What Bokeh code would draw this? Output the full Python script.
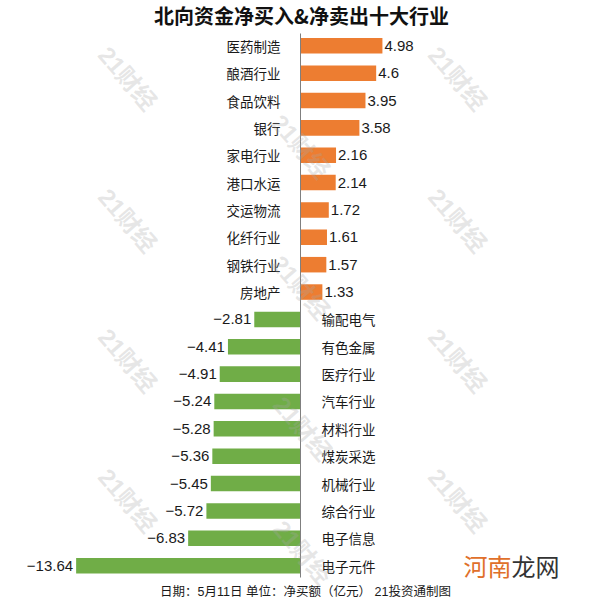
from bokeh.plotting import figure
from bokeh.models import ColumnDataSource, Range1d
from bokeh.core.properties import value
from bokeh.embed import file_html
from bokeh.resources import INLINE

# ---------------- data ----------------
title = "北向资金净买入&净卖出十大行业"
footer = "日期：5月11日 单位：净买额（亿元） 21投资通制图"
buy_industries = ["医药制造", "酿酒行业", "食品饮料", "银行", "家电行业",
                  "港口水运", "交运物流", "化纤行业", "钢铁行业", "房地产"]
buy_values = [4.98, 4.6, 3.95, 3.58, 2.16, 2.14, 1.72, 1.61, 1.57, 1.33]
sell_industries = ["输配电气", "有色金属", "医疗行业", "汽车行业", "材料行业",
                   "煤炭采选", "机械行业", "综合行业", "电子信息", "电子元件"]
sell_values = [-2.81, -4.41, -4.91, -5.24, -5.28, -5.36, -5.45, -5.72, -6.83, -13.64]
watermark_text = "21财经"
site_mark = ["河南", "龙网"]

# ---------------- layout helpers (pixel -> data) ----------------
X0, XS = 300.0, 16.45      # zero position and px per unit
Y0, YS = 45.3, 27.36       # first row centre and row pitch


def dx(px):
    return (px - X0) / XS


def dy(py):
    return (py - Y0) / YS


CJK = "Noto Sans CJK SC"
LAT = "Liberation Sans"
ORANGE = "#ED7D31"
GREEN = "#70AD47"

p = figure(width=600, height=600,
           x_range=Range1d(dx(0), dx(600)),
           y_range=Range1d(dy(600), dy(0)),
           output_backend="svg", toolbar_location=None,
           x_axis_location=None, y_axis_location=None,
           min_border=0)
p.grid.visible = False
p.outline_line_color = None
p.background_fill_color = "white"
p.border_fill_color = "white"

n_buy = len(buy_values)
buy_rows = list(range(n_buy))
sell_rows = [n_buy + i for i in range(len(sell_values))]


def fmt(v):
    s = ("%g" % v)
    return s.replace("-", "\u2212")


buy_src = ColumnDataSource(dict(y=buy_rows, v=buy_values, name=buy_industries,
                                lab=[fmt(v) for v in buy_values]))
sell_src = ColumnDataSource(dict(y=sell_rows, v=sell_values, name=sell_industries,
                                 lab=[fmt(v) for v in sell_values]))

BAR_H = 0.567
p.hbar(y="y", left=0, right="v", height=BAR_H, source=buy_src,
       fill_color=ORANGE, line_color=None)
p.hbar(y="y", left=0, right="v", height=BAR_H, source=sell_src,
       fill_color=GREEN, line_color=None)

# zero axis line
p.segment(x0=[0], x1=[0], y0=[dy(33)], y1=[dy(577)], line_color="#7f7f7f", line_width=1)

# category labels
p.text(x=0, y="y", text="name", source=buy_src, x_offset=-20,
       text_align="right", text_baseline="middle",
       text_font=value(CJK), text_font_size="13.5px", text_color="#1a1a1a")
p.text(x=0, y="y", text="name", source=sell_src, x_offset=21,
       text_align="left", text_baseline="middle",
       text_font=value(CJK), text_font_size="13.5px", text_color="#1a1a1a")

# value labels
p.text(x="v", y="y", text="lab", source=buy_src, x_offset=2,
       text_align="left", text_baseline="middle",
       text_font=value(LAT), text_font_size="15px", text_color="#1a1a1a")
p.text(x="v", y="y", text="lab", source=sell_src, x_offset=-3,
       text_align="right", text_baseline="middle",
       text_font=value(LAT), text_font_size="15px", text_color="#1a1a1a")

# title and footer
p.text(x=[dx(301)], y=[dy(15)], text=[title], text_align="center",
       text_baseline="middle", text_font=value(CJK), text_font_style="bold",
       text_font_size="20px", text_color="#111111")
p.text(x=[dx(305)], y=[dy(591)], text=[footer], text_align="center",
       text_baseline="middle", text_font=value("Liberation Sans, Noto Sans CJK SC"),
       text_font_size="12.5px", text_color="#1a1a1a")

# faint "21财经" watermarks
wm_px = [(127, 78), (457, 78), (127, 220), (457, 220), (127, 360), (457, 360),
         (127, 500), (457, 500), (300, 146), (300, 287), (302, 428), (302, 552)]
p.text(x=[dx(a) for a, b in wm_px], y=[dy(b) for a, b in wm_px],
       text=[watermark_text] * len(wm_px), angle=-0.86,
       text_align="center", text_baseline="middle",
       text_font=value("Liberation Sans, Noto Sans CJK SC"), text_font_style="bold",
       text_font_size="24px", text_color="#a8a8a8", text_alpha=0.28)

# site watermark bottom right
p.text(x=[dx(511)], y=[dy(565)], text=[site_mark[0]], text_align="right",
       text_baseline="middle", text_font=value(CJK), text_font_size="24px",
       text_color="#E0702A")
p.text(x=[dx(511)], y=[dy(565)], text=[site_mark[1]], text_align="left",
       text_baseline="middle", text_font=value(CJK), text_font_size="24px",
       text_color="#333333")

open("out.html", "w").write(file_html(p, INLINE))
